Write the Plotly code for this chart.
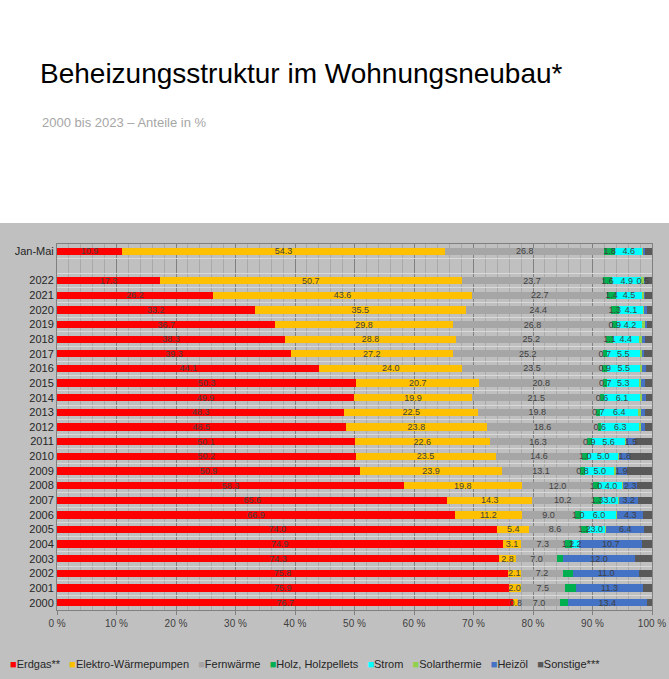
import plotly.graph_objects as go

# Kategorien von oben nach unten
jahre = ["Jan-Mai", "2022", "2021", "2020", "2019", "2018", "2017", "2016", "2015",
         "2014", "2013", "2012", "2011", "2010", "2009", "2008", "2007", "2006",
         "2005", "2004", "2003", "2002", "2001", "2000"]
achse = ["Jan-Mai", " "] + jahre[1:]

erdgas = [10.9, 17.3, 26.2, 33.2, 36.7, 38.3, 39.3, 44.1, 50.3, 49.9, 48.3, 48.5,
          50.1, 50.2, 50.9, 58.3, 65.6, 66.9, 74.0, 74.9, 74.3, 75.8, 75.9, 76.7]
waermepumpe = [54.3, 50.7, 43.6, 35.5, 29.8, 28.8, 27.2, 24.0, 20.7, 19.9, 22.5, 23.8,
               22.6, 23.5, 23.9, 19.8, 14.3, 11.2, 5.4, 3.1, 2.8, 2.1, 2.0, 0.8]
fernwaerme = [26.8, 23.7, 22.7, 24.4, 26.8, 25.2, 25.2, 23.5, 20.8, 21.5, 19.8, 18.6,
              16.3, 14.6, 13.1, 12.0, 10.2, 9.0, 8.6, 7.3, 7.0, 7.2, 7.5, 7.0]
holz = [1.8, 1.6, 1.4, 1.3, 0.9, 1.1, 0.7, 0.9, 0.7, 0.6, 0.7, 0.6,
        0.9, 1.0, 0.8, 1.0, 1.3, 1.0, 1.2, 1.2, 1.0, 1.7, 1.8, 1.3]
strom = [4.6, 4.9, 4.5, 4.1, 4.2, 4.4, 5.5, 5.5, 5.3, 6.1, 6.4, 6.3,
         5.6, 5.0, 5.0, 4.0, 3.0, 6.0, 3.0, 1.2, 0.0, 0.0, 0.0, 0.0]
solar = [0.2, 0.5, 0.3, 0.2, 0.4, 0.6, 0.4, 0.3, 0.4, 0.4, 0.4, 0.4,
         0.2, 0.2, 0.2, 0.1, 0.1, 0.1, 0.1, 0.0, 0.0, 0.0, 0.0, 0.0]
heizoel = [0.3, 0.2, 0.2, 0.5, 0.4, 0.4, 0.4, 0.7, 0.6, 0.6, 0.7, 0.7,
           1.5, 1.8, 1.9, 2.3, 3.2, 4.3, 6.4, 10.7, 12.0, 11.0, 11.3, 13.4]
sonstige = [1.1, 1.1, 1.1, 0.8, 0.8, 1.2, 1.3, 1.0, 1.2, 1.0, 1.2, 1.1,
            2.8, 3.7, 4.2, 2.5, 2.3, 1.5, 1.3, 1.6, 2.9, 2.2, 1.5, 0.8]

namen = ["Erdgas**", "Elektro-Wärmepumpen", "Fernwärme", "Holz, Holzpellets",
         "Strom", "Solarthermie", "Heizöl", "Sonstige***"]
farben = ["#ff0000", "#ffc000", "#a6a6a6", "#00b050",
          "#00ffff", "#92d050", "#4472c4", "#595959"]
werte = [erdgas, waermepumpe, fernwaerme, holz, strom, solar, heizoel, sonstige]
# welche Jahre eine Beschriftung haben
beschriftet = [jahre, jahre, jahre, jahre[:20], jahre[:20], ["2022"], jahre[12:], []]

schrift = "Liberation Sans Narrow, Liberation Sans, Arial"
grau = "#c0c0c0"

fig = go.Figure()
# Balken
for name, farbe, w in zip(namen, farben, werte):
    fig.add_trace(go.Bar(
        y=jahre, x=w, name=name, orientation="h",
        marker=dict(color=farbe, line_width=0), hoverinfo="skip"
    ))
# Beschriftungen auf zweiter x-Achse, damit sie ueber allen Balken liegen
for name, w, lab in zip(namen, werte, beschriftet):
    texte = ["%.1f" % v if j in lab else "" for j, v in zip(jahre, w)]
    fig.add_trace(go.Bar(
        y=jahre, x=w, name=name, orientation="h", xaxis="x2",
        marker=dict(color="rgba(0,0,0,0)", line_width=0),
        text=texte, textposition="inside", insidetextanchor="middle",
        textangle=0, textfont=dict(size=9, color="#404040", family=schrift),
        hoverinfo="skip", showlegend=False
    ))

# Legende als eine Textzeile
legende = "   ".join(
    "<span style='color:%s'>■</span>%s" % (f, n) for n, f in zip(namen, farben))

fig.update_layout(
    width=669, height=679,
    barmode="stack", bargap=0.5,
    showlegend=False,
    uniformtext=dict(minsize=9, mode="show"),
    paper_bgcolor="white",
    plot_bgcolor=grau,
    margin=dict(l=57, r=17, t=244, b=69, autoexpand=False),
    font=dict(family=schrift, color="#404040"),
    title=dict(
        text="Beheizungsstruktur im Wohnungsneubau*",
        x=0.0598, xanchor="left", y=0.8925, yanchor="middle",
        font=dict(family="Liberation Sans, Arial", size=28, color="black")
    ),
    annotations=[
        dict(text="2000 bis 2023 – Anteile in %", xref="paper", yref="paper",
             x=-0.029, y=1.333, xanchor="left", yanchor="middle", showarrow=False,
             font=dict(family="Liberation Sans, Arial", size=13, color="#a6a6a6")),
        dict(text=legende, xref="paper", yref="paper",
             x=-0.082, y=-0.1475, xanchor="left", yanchor="middle", showarrow=False,
             font=dict(family=schrift, size=11, color="#262626")),
    ],
    shapes=[
        dict(type="rect", xref="paper", yref="paper", x0=-0.2, x1=1.2,
             y0=-0.4, y1=1.0574, fillcolor=grau, line_width=0, layer="below"),
    ],
    xaxis=dict(
        range=[0, 100], dtick=10, ticksuffix=" %", automargin=False,
        showgrid=True, gridcolor="#808080", gridwidth=1,
        minor=dict(dtick=2, showgrid=True, gridcolor="#a9a9a9", gridwidth=1),
        zeroline=False, showline=True, mirror=True, linecolor="#808080",
        ticks="outside", ticklen=4, tickcolor="#808080",
        tickfont=dict(size=10, color="#404040", family=schrift),
    ),
    xaxis2=dict(range=[0, 100], overlaying="x", visible=False, automargin=False),
    yaxis=dict(
        type="category", categoryorder="array", categoryarray=achse,
        autorange="reversed", tickson="boundaries", automargin=False,
        showgrid=True, gridcolor="#d9d9d9", gridwidth=1,
        showline=True, mirror=True, linecolor="#808080",
        ticks="", tickfont=dict(size=11, color="#262626", family=schrift),
    ),
)

# Seitenrand des Browsers entfernen, damit die Grafik bei 0,0 beginnt
fig.write_html("out.html", config={"displayModeBar": False},
               post_script="document.body.style.margin='0px';")
